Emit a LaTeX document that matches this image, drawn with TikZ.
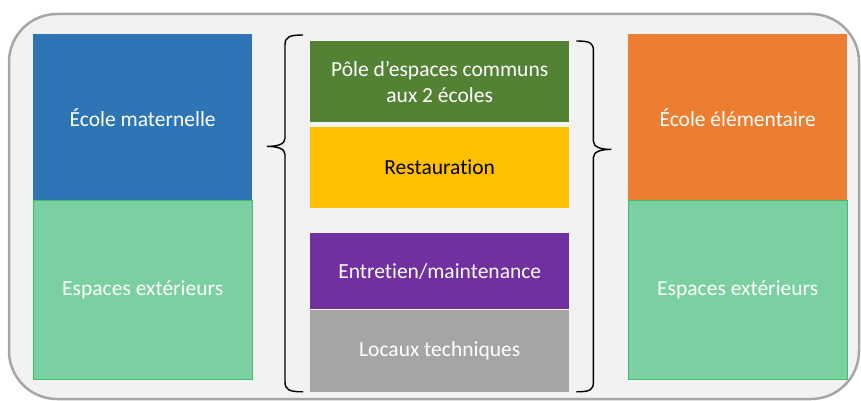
\documentclass[tikz,border=0pt]{standalone}
\usepackage{fontspec}
\setmainfont[Ligatures=NoCommon]{Carlito}
\usetikzlibrary{positioning}

\definecolor{fond}{HTML}{F2F2F2}
\definecolor{cadregris}{HTML}{A6A6A6}
\definecolor{bleu}{HTML}{2E75B6}
\definecolor{orange}{HTML}{ED7D31}
\definecolor{vertclair}{HTML}{7AD0A0}
\definecolor{vertbord}{HTML}{3DBE6C}
\definecolor{vertfonce}{HTML}{548235}
\definecolor{jaune}{HTML}{FFC000}
\definecolor{violet}{HTML}{7030A0}
\definecolor{gris}{HTML}{A5A5A5}

\begin{document}
\begin{tikzpicture}[
  x=1pt, y=-1pt,
  zone/.style={rectangle, inner sep=0pt, text=white, align=center,
               font=\fontsize{21.5}{26}\selectfont},
  cote/.style={zone, minimum width=219pt},
  centre/.style={zone, minimum width=259pt},
  exterieur/.style={cote, fill=vertclair, draw=vertbord, line width=0.8pt,
                    minimum height=179pt},
  accolade/.style={draw, line width=1.4pt}
]
\useasboundingbox (0,0) rectangle (861,401);
% cadre arrondi
\draw[fill=fond, draw=cadregris, line width=2.5pt, rounded corners=48pt]
  (9,14) rectangle (859,399);

% école maternelle
\node[cote, fill=bleu, minimum height=166pt, anchor=north west] (mat) at (33,34) {École maternelle};
\node[exterieur, below=0pt of mat] (extg) {Espaces extérieurs};

% espaces communs
\node[centre, fill=vertfonce, minimum height=81pt, anchor=north west] (pole) at (310,41)
  {Pôle d’espaces communs\\aux 2 écoles};
\node[centre, fill=jaune, text=black, minimum height=81pt, below=4pt of pole] (resto) {Restauration};
\node[centre, fill=violet, minimum height=76pt, anchor=north west] (entretien) at (310,233)
  {Entretien/maintenance};
\node[centre, fill=gris, minimum height=82pt, below=0pt of entretien] (locaux) {Locaux techniques};

% école élémentaire
\node[cote, fill=orange, minimum height=166pt, anchor=north west] (elem) at (628,34) {École élémentaire};
\node[exterieur, below=0pt of elem] (extd) {Espaces extérieurs};

% accolades
\coordinate (gh) at ([xshift=-7pt, yshift=6pt]pole.north west);
\coordinate (gp) at ([xshift=-43pt, yshift=-24pt]pole.south west);
\coordinate (gb) at ([xshift=-7pt]locaux.south west);
\coordinate (dh) at ([xshift=7pt]pole.north east);
\coordinate (dp) at ([xshift=42pt, yshift=-27pt]pole.south east);
\coordinate (db) at ([xshift=7pt]locaux.south east);

\draw[accolade] (gh) .. controls +(-14,0) and +(0,-8) .. ++(-18,10)
  -- ([shift={(18,-8)}]gp) .. controls +(0,6) and +(10,0) .. (gp)
  .. controls +(10,0) and +(0,-6) .. ([shift={(18,8)}]gp)
  -- ([shift={(-18,-10)}]gb) .. controls +(0,8) and +(-14,0) .. (gb);
\draw[accolade] (dh) .. controls +(14,0) and +(0,-8) .. ++(17,10)
  -- ([shift={(-18,-8)}]dp) .. controls +(0,6) and +(-10,0) .. (dp)
  .. controls +(-10,0) and +(0,-6) .. ([shift={(-18,8)}]dp)
  -- ([shift={(17,-10)}]db) .. controls +(0,8) and +(14,0) .. (db);
\end{tikzpicture}
\end{document}
